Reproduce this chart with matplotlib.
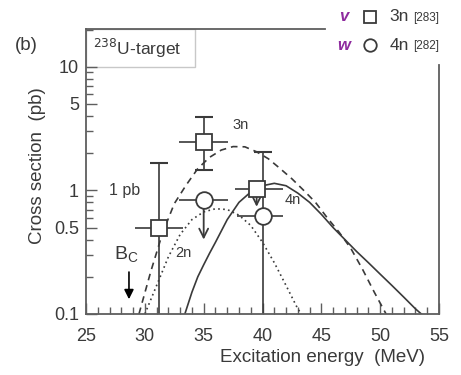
import numpy as np
import matplotlib
matplotlib.use("Agg")
import matplotlib.pyplot as plt
from matplotlib.lines import Line2D
from matplotlib.patches import Rectangle

plt.rcParams['font.family'] = ['Liberation Sans', 'DejaVu Sans']

# calculated excitation functions (MeV, pb)
e_2n = [30.0, 31.0, 32.0, 33.0, 34.0, 35.0, 36.0, 37.0, 38.0, 39.0, 40.0, 41.0, 42.0, 43.0, 43.3]
s_2n = [0.10, 0.17, 0.29, 0.44, 0.58, 0.67, 0.71, 0.70, 0.63, 0.52, 0.38, 0.26, 0.17, 0.11, 0.10]

e_3n = [29.5, 30.5, 31.5, 32.5, 33.5, 34.5, 35.5, 36.5, 37.5, 38.5, 39.5, 40.5, 41.5, 42.5,
        43.5, 44.5, 45.5, 46.5, 47.5, 48.5, 49.5, 50.5]
s_3n = [0.10, 0.22, 0.45, 0.78, 1.10, 1.50, 1.85, 2.12, 2.26, 2.25, 2.05, 1.80, 1.50, 1.24,
        1.00, 0.80, 0.60, 0.46, 0.34, 0.23, 0.15, 0.10]

e_4n = [33.4, 34.0, 34.5, 35.0, 35.5, 36.0, 37.0, 38.0, 39.0, 40.0, 41.0, 42.0, 43.0, 44.0,
        45.0, 46.0, 47.0, 48.0, 49.0, 50.0, 51.0, 52.0, 53.0, 53.5]
s_4n = [0.10, 0.15, 0.20, 0.25, 0.31, 0.38, 0.58, 0.80, 0.97, 1.09, 1.14, 1.09, 0.95, 0.80,
        0.64, 0.50, 0.40, 0.32, 0.26, 0.21, 0.17, 0.137, 0.11, 0.10]

# measured 3n points: energy, sigma, x errors, y errors
e_3n_meas = [31.2, 35.0]
s_3n_meas = [0.50, 2.45]
xerr_3n = [[2.0, 2.1], [2.0, 2.1]]
yerr_3n = [[0.45, 1.00], [1.15, 1.45]]

# 3n upper limit
e_3n_lim = 39.5
s_3n_lim = 1.02
xerr_3n_lim = [[1.8], [2.2]]
s_3n_lim_arrow = 0.70

# measured 4n point and 4n upper limit
e_4n_meas = 40.0
s_4n_meas = 0.62
xerr_4n = [[2.2], [1.7]]
yerr_4n = [[0.57], [1.43]]

e_4n_lim = 35.0
s_4n_lim = 0.83
xerr_4n_lim = [[2.1], [2.1]]
s_4n_lim_arrow = 0.38

bc_energy = 28.65

dark = '#3a3a3a'
frame = '#5e5e5e'

fig = plt.figure(figsize=(4.61, 3.75), dpi=100)
ax = fig.add_axes([0.1866, 0.1627, 0.7657, 0.76])

ax.plot(e_2n, s_2n, color=dark, lw=1.2, ls=(0, (1, 2)))
ax.plot(e_3n, s_3n, color=dark, lw=1.2, ls=(0, (4, 3)))
ax.plot(e_4n, s_4n, color=dark, lw=1.2, ls='-')

# vertical bars with caps, horizontal bars without
ax.errorbar(e_3n_meas, s_3n_meas, yerr=yerr_3n, fmt='none', ecolor=dark, elinewidth=1.2,
            capsize=6.5, capthick=1.5)
ax.errorbar(e_3n_meas, s_3n_meas, xerr=xerr_3n, fmt='none', ecolor=dark, elinewidth=1.2)
ax.errorbar([e_4n_meas], [s_4n_meas], yerr=yerr_4n, fmt='none', ecolor=dark, elinewidth=1.2,
            capsize=6.5, capthick=1.5)
ax.errorbar([e_4n_meas], [s_4n_meas], xerr=xerr_4n, fmt='none', ecolor=dark, elinewidth=1.2)
ax.errorbar([e_3n_lim], [s_3n_lim], xerr=xerr_3n_lim, fmt='none', ecolor=dark, elinewidth=1.2)
ax.errorbar([e_4n_lim], [s_4n_lim], xerr=xerr_4n_lim, fmt='none', ecolor=dark, elinewidth=1.2)

ax.annotate('', xy=(e_4n_lim, s_4n_lim_arrow), xytext=(e_4n_lim, s_4n_lim),
            arrowprops=dict(arrowstyle='->', color=dark, lw=1.3, mutation_scale=16))
ax.annotate('', xy=(e_3n_lim, s_3n_lim_arrow), xytext=(e_3n_lim, s_3n_lim),
            arrowprops=dict(arrowstyle='->', color=dark, lw=1.3, mutation_scale=14))

ax.plot(e_3n_meas + [e_3n_lim], s_3n_meas + [s_3n_lim], ls='none', marker='s', ms=11,
        mfc='white', mec=dark, mew=1.3, zorder=5)
ax.plot([e_4n_lim, e_4n_meas], [s_4n_lim, s_4n_meas], ls='none', marker='o', ms=12,
        mfc='white', mec=dark, mew=1.3, zorder=5)

# Coulomb barrier
ax.annotate('', xy=(bc_energy, 0.125), xytext=(bc_energy, 0.23),
            arrowprops=dict(arrowstyle='-|>', color='black', lw=1.2, mutation_scale=14))
ax.text(bc_energy - 0.2, 0.30, r'B$_\mathregular{C}$', fontsize=14, color=dark,
        ha='center', va='center')

ax.text(38.1, 3.35, '3n', fontsize=10.5, color=dark, ha='center', va='center')
ax.text(33.3, 0.31, '2n', fontsize=10.5, color=dark, ha='center', va='center')
ax.text(42.6, 0.83, '4n', fontsize=10.5, color=dark, ha='center', va='center')
ax.text(28.3, 1.0, '1 pb', fontsize=11.5, color=dark, ha='center', va='center')

ax.set_yscale('log')
ax.set_xlim(25, 55)
ax.set_ylim(0.1, 20.2)
ax.set_xticks([25, 30, 35, 40, 45, 50, 55])
ax.set_xticks(np.arange(25, 56, 1), minor=True)
ax.set_yticks([0.1, 0.5, 1, 5, 10])
ax.set_yticklabels(['0.1', '0.5', '1', '5', '10'])
ax.tick_params(which='both', direction='in', color=frame, labelcolor=dark, labelsize=13,
               top=False, right=False)
ax.tick_params(which='major', length=8, width=1.0)
ax.tick_params(which='minor', length=5, width=1.0)
ax.tick_params(axis='x', which='major', pad=10)
ax.tick_params(axis='y', which='major', pad=5)
ax.yaxis.set_minor_formatter(plt.NullFormatter())
ax.set_xlabel('Excitation energy  (MeV)', fontsize=13.5, color=dark, labelpad=3, x=0.67)
ax.set_ylabel('Cross section  (pb)', fontsize=13.5, color=dark, labelpad=6, y=0.52)

for side in ['left', 'bottom']:
    ax.spines[side].set_color(frame)
    ax.spines[side].set_linewidth(1.3)
ax.spines['top'].set_visible(False)
ax.spines['right'].set_visible(False)
# top and right frame stop short of the legend corner
ax.plot([0, 0.677], [1, 1], transform=ax.transAxes, color=frame, lw=1.3, clip_on=False)
ax.plot([1, 1], [0, 0.874], transform=ax.transAxes, color=frame, lw=1.3, clip_on=False)

ax.add_patch(Rectangle((0, 0.865), 0.31, 0.135, transform=ax.transAxes, fill=False,
                       edgecolor='#c8c8c8', lw=1.0))
ax.text(0.02, 0.93, r'$^{238}$U-target', transform=ax.transAxes, fontsize=12.5, color=dark,
        va='center', ha='left')

fig.text(0.032, 0.88, '(b)', fontsize=13.5, color=dark, va='center')

# legend in the upper right corner
for yy, let, mk, name, ref in [(0.955, 'v', 's', '3n', '[283]'), (0.88, 'w', 'o', '4n', '[282]')]:
    fig.text(0.745, yy, let, fontsize=12, color='#8e2a9e', style='italic', weight='bold',
             va='center', ha='center')
    fig.add_artist(Line2D([0.803], [yy], transform=fig.transFigure, marker=mk, ms=9,
                          mfc='white', mec=dark, mew=1.3, ls='none'))
    fig.text(0.845, yy, name, fontsize=12.5, color=dark, va='center')
    fig.text(0.897, yy - 0.004, ref, fontsize=8.5, color=dark, va='center')

fig.savefig('out.png', dpi=100)
